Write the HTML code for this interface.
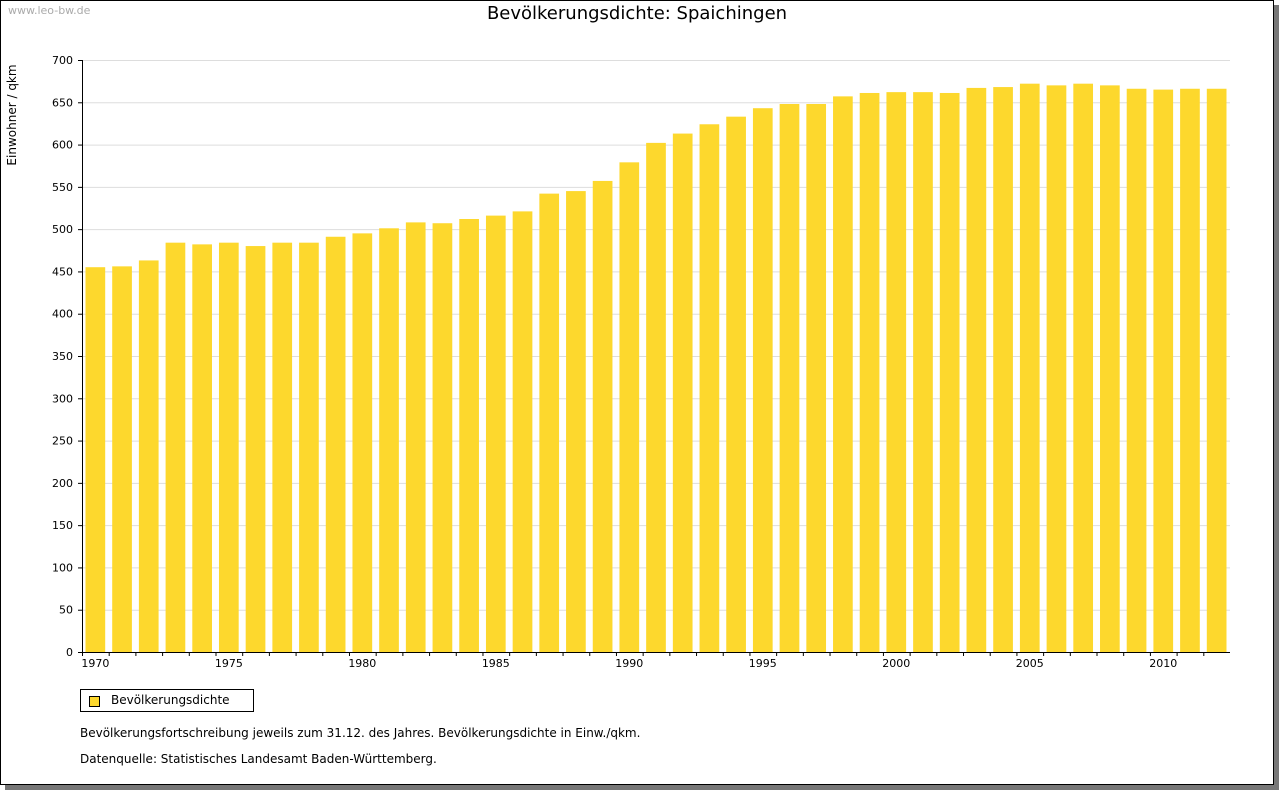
<!DOCTYPE html>
<html><head><meta charset="utf-8"><style>
body{margin:0;background:#fff;width:1280px;height:791px;overflow:hidden;font-family:"DejaVu Sans","Liberation Sans",sans-serif;}
#frame{position:absolute;left:0;top:0;width:1272px;height:783px;border:1px solid #000;background:#fff;box-shadow:5px 5px 0 #777;}
.t{position:absolute;white-space:nowrap;color:#000;}
</style></head><body>
<div id="frame"></div>
<div class="t" style="left:8px;top:4px;font-size:11px;color:#aaa">www.leo-bw.de</div>
<div class="t" style="left:0;width:1274px;text-align:center;top:3px;font-size:18px">Bevölkerungsdichte: Spaichingen</div>
<svg id="chart" width="1280" height="791" style="position:absolute;left:0;top:0"></svg>
<div style="position:absolute;left:80px;top:689px;width:172px;height:21px;border:1px solid #000;font-size:12px">
<div style="position:absolute;left:8px;top:6px;width:9px;height:9px;background:#fdd82d;border:1px solid #000"></div>
<div class="t" style="left:30px;top:3px">Bevölkerungsdichte</div></div>
<div class="t" style="left:80px;top:726px;font-size:12px">Bevölkerungsfortschreibung jeweils zum 31.12. des Jahres. Bevölkerungsdichte in Einw./qkm.</div>
<div class="t" style="left:80px;top:752px;font-size:12px">Datenquelle: Statistisches Landesamt Baden-Württemberg.</div>
<script>
const years=[];for(let y=1970;y<=2012;y++)years.push(y);
const values=[455,456,463,484,482,484,480,484,484,491,495,501,508,507,512,516,521,542,545,557,579,602,613,624,633,643,648,648,657,661,662,662,661,667,668,672,670,672,670,666,665,666,666];
const yTicks=[0,50,100,150,200,250,300,350,400,450,500,550,600,650,700];
const xTickYears=[1970,1975,1980,1985,1990,1995,2000,2005,2010];
const NS="http://www.w3.org/2000/svg",svg=document.getElementById('chart');
const L=82,R=1230,T=60,B=652,yMax=700;
const band=(R-L)/years.length;
const yS=v=>B-v/yMax*(B-T);
const xS=i=>L+band*i;
function mk(tag,a){const e=document.createElementNS(NS,tag);for(const k in a)e.setAttribute(k,a[k]);svg.appendChild(e);return e;}
yTicks.forEach(v=>{
 if(v>0){const g=mk('line',{x1:L,x2:R,y1:yS(v)+.5,y2:yS(v)+.5,stroke:'#ddd'});
 
 }
 const tk=mk('line',{x1:L-4,x2:L,y1:yS(v)+.5,y2:yS(v)+.5,stroke:'#000'});
 
 
 const t=mk('text',{x:L-9,y:yS(v)+4,'text-anchor':'end','font-size':11,'font-family':'DejaVu Sans,sans-serif'});
 t.textContent=v;
 
 
});
values.forEach((v,i)=>{
 const r=mk('rect',{x:xS(i)+3.5,y:yS(v),width:band-7,height:B-yS(v),fill:'#fdd82d'});
 
 
});
xTickYears.forEach(y=>{
 const i=years.indexOf(y);const x=xS(i)+band/2;
 const t=mk('text',{x:x,y:667,'text-anchor':'middle','font-size':11,'font-family':'DejaVu Sans,sans-serif'});
 t.textContent=y;
 
 
});
years.forEach((y,i)=>{const tk=mk('line',{x1:xS(i)+.5,x2:xS(i)+.5,y1:B,y2:B+4,stroke:'#000'});
 
 });
const ya=mk('line',{x1:L+.5,x2:L+.5,y1:T,y2:B,stroke:'#000'});


const xa=mk('line',{x1:L,x2:R,y1:B+.5,y2:B+.5,stroke:'#000'});


const yt=mk('text',{x:0,y:0,transform:'translate(16,115) rotate(-90)','text-anchor':'middle','font-size':12,'font-family':'DejaVu Sans,sans-serif'});
yt.textContent='Einwohner / qkm';


</script>
</body></html>
